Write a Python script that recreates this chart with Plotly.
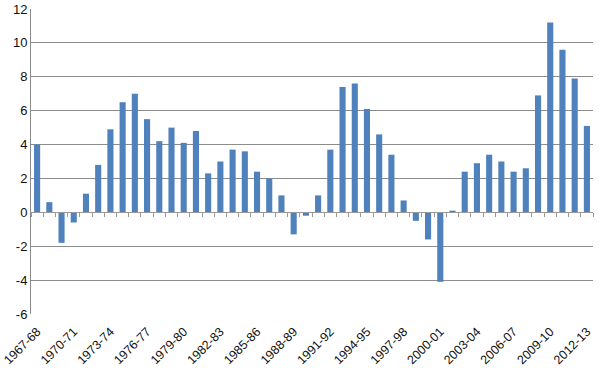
import plotly.graph_objects as go

years = ["1967-68","1968-69","1969-70","1970-71","1971-72","1972-73","1973-74","1974-75",
         "1975-76","1976-77","1977-78","1978-79","1979-80","1980-81","1981-82","1982-83",
         "1983-84","1984-85","1985-86","1986-87","1987-88","1988-89","1989-90","1990-91",
         "1991-92","1992-93","1993-94","1994-95","1995-96","1996-97","1997-98","1998-99",
         "1999-00","2000-01","2001-02","2002-03","2003-04","2004-05","2005-06","2006-07",
         "2007-08","2008-09","2009-10","2010-11","2011-12","2012-13"]
values = [4.0, 0.6, -1.8, -0.6, 1.1, 2.8, 4.9, 6.5,
          7.0, 5.5, 4.2, 5.0, 4.1, 4.8, 2.3, 3.0,
          3.7, 3.6, 2.4, 2.0, 1.0, -1.3, -0.2, 1.0,
          3.7, 7.4, 7.6, 6.1, 4.6, 3.4, 0.7, -0.5,
          -1.6, -4.1, 0.1, 2.4, 2.9, 3.4, 3.0, 2.4,
          2.6, 6.9, 11.2, 9.6, 7.9, 5.1]
tick_labels = years[::3]
y_ticks = [-6, -4, -2, 0, 2, 4, 6, 8, 10, 12]
y_tick_text = ["-6", "-4", "-2", "0", "2", "4", "6", "8", "10", "12"]

n = len(years)
fig = go.Figure()
fig.add_trace(go.Bar(x=list(range(n)), y=values, marker_color="#4F81BD",
                     marker_line_width=0, width=0.5))

ymin, ymax = -6, 12
zero_pos = (0 - ymin) / (ymax - ymin)

fig.update_layout(
    width=600, height=368,
    margin=dict(l=31, r=7, t=9, b=54, autoexpand=False),
    plot_bgcolor="white", paper_bgcolor="white",
    font=dict(family="Liberation Sans, Arial, sans-serif", size=13, color="#111"),
    showlegend=False,
    xaxis=dict(range=[-0.5, n - 0.5], tickmode="array",
               tickvals=list(range(0, n, 3)), ticktext=tick_labels,
               tickangle=-45, showgrid=False, zeroline=False, ticks="",
               showline=False, tickfont=dict(size=12.5), automargin=False,
               ticklabelstandoff=7),
    xaxis2=dict(range=[-0.5, n - 0.5], overlaying="x", anchor="free",
                position=zero_pos, side="bottom", tickmode="array",
                tickvals=[i - 0.5 for i in range(n + 1)], ticks="outside",
                ticklen=4, tickcolor="#999", showticklabels=False,
                showline=True, linecolor="#999", linewidth=1, showgrid=False,
                zeroline=False, automargin=False),
    yaxis=dict(range=[ymin, ymax], tickmode="array", tickvals=y_ticks,
               ticktext=y_tick_text, showgrid=True,
               gridcolor="#8c8c8c", gridwidth=1, zeroline=False,
               showline=True, linecolor="#8c8c8c", linewidth=1,
               ticks="", ticklen=0, automargin=False),
)
fig.add_trace(go.Scatter(x=[None], y=[None], xaxis="x2", showlegend=False))
fig.write_html("out.html", post_script="document.body.style.margin='0';",
               config={"displayModeBar": False})
